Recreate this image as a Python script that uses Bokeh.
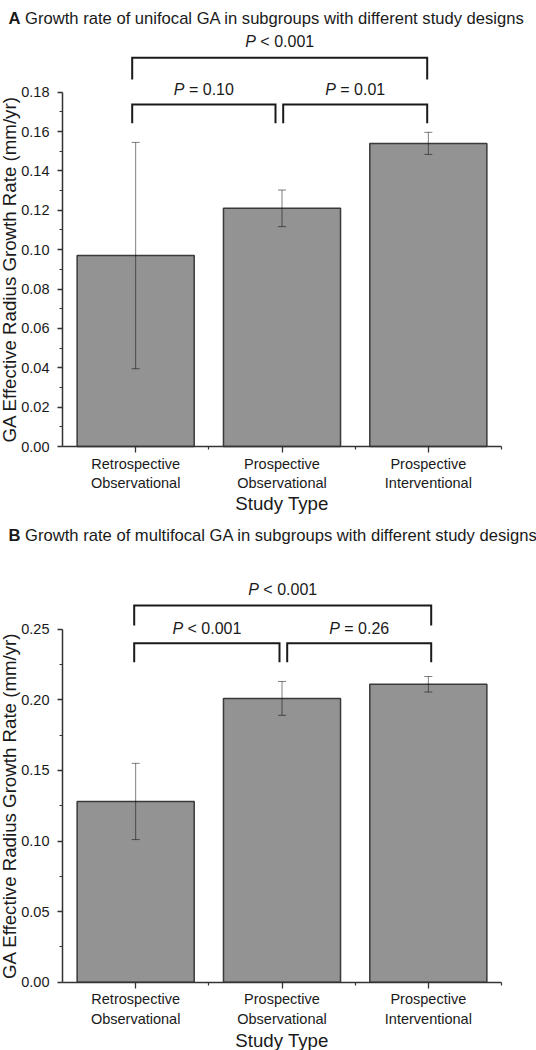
import math
from bokeh.plotting import figure
from bokeh.models import ColumnDataSource, FixedTicker, Whisker, TeeHead, PrintfTickFormatter
from bokeh.core.properties import value
from bokeh.layouts import column
from bokeh.embed import file_html
from bokeh.resources import INLINE

# ---------------- data ----------------
categories = ["Retrospective\nObservational", "Prospective\nObservational", "Prospective\nInterventional"]
unifocal_rate = [0.097, 0.121, 0.154]
unifocal_err = [0.0575, 0.0093, 0.0056]
multifocal_rate = [0.128, 0.201, 0.211]
multifocal_err = [0.027, 0.012, 0.0055]
# p-values: [outer (1 vs 3), left (1 vs 2), right (2 vs 3)]
unifocal_p = ["< 0.001", "= 0.10", "= 0.01"]
multifocal_p = ["< 0.001", "< 0.001", "= 0.26"]
unifocal_ticks = [0.00, 0.02, 0.04, 0.06, 0.08, 0.10, 0.12, 0.14, 0.16, 0.18]
unifocal_minor = [0.01, 0.03, 0.05, 0.07, 0.09, 0.11, 0.13, 0.15, 0.17]
multifocal_ticks = [0.00, 0.05, 0.10, 0.15, 0.20, 0.25]
multifocal_minor = [0.025, 0.075, 0.125, 0.175, 0.225]
title_a = ("A", "Growth rate of unifocal GA in subgroups with different study designs")
title_b = ("B", "Growth rate of multifocal GA in subgroups with different study designs")
y_label = "GA Effective Radius Growth Rate (mm/yr)"
x_label = "Study Type"

FONT = "Liberation Sans"
TXT = "#1a1a1a"
AX = "#333333"
W = 536

# Arial / Liberation Sans advance widths (per 1000 em)
CW = {" ": 278, "=": 584, "<": 584, ".": 278, "P": 667, "A": 722, "B": 722}
for d in "0123456789":
    CW[d] = 556


def tw(s, size):
    return sum(CW.get(c, 556) for c in s) * size / 1000.0


def make_panel(title, rates, errs, pvals, ticks, minor, ymax, H, zero_px, top_px, lay):
    # layout in canvas pixels -> data units
    axis_px, right_px = 62.0, 501.0
    ppx = (right_px - axis_px) / 3.0
    ppu = (zero_px - top_px) / ymax

    def X(px):
        return 0.5 + (px - axis_px) / ppx

    def Y(py):
        return (zero_px - py) / ppu

    p = figure(width=W, height=H, x_range=(X(0), X(W)), y_range=(Y(H), Y(0)),
               output_backend="svg", toolbar_location=None,
               min_border=0, min_border_left=0, min_border_right=0,
               min_border_top=0, min_border_bottom=0)
    p.outline_line_color = None
    p.xgrid.visible = False
    p.ygrid.visible = False
    p.background_fill_color = "white"
    p.border_fill_color = "white"

    xs = list(range(1, len(categories) + 1))
    src = ColumnDataSource(dict(x=xs, top=rates,
                                upper=[r + e for r, e in zip(rates, errs)],
                                lower=[r - e for r, e in zip(rates, errs)]))
    p.vbar(x="x", top="top", width=0.8, source=src, fill_color="#939393",
           line_color="#3a3a3a", line_width=1.5)
    wk = Whisker(source=src, base="x", upper="upper", lower="lower",
                 line_color="black", line_alpha=0.5, line_width=1, level="overlay",
                 upper_head=TeeHead(size=8, line_color="black", line_alpha=0.5, line_width=1),
                 lower_head=TeeHead(size=8, line_color="black", line_alpha=0.5, line_width=1))
    p.add_layout(wk)

    # axes, fixed inside the frame at the data origin
    xa = p.xaxis[0]
    xa.fixed_location = 0
    xa.bounds = (0.5, 3.5)
    xa.ticker = FixedTicker(ticks=xs, minor_ticks=[1.5, 2.5, 3.5])
    xa.major_label_overrides = {i: c for i, c in zip(xs, categories)}
    ya = p.yaxis[0]
    ya.fixed_location = 0.5
    ya.bounds = (0, ymax)
    ya.ticker = FixedTicker(ticks=ticks, minor_ticks=minor)
    ya.formatter = PrintfTickFormatter(format="%.2f")
    for a in (xa, ya):
        a.axis_line_color = AX
        a.axis_line_width = 1.5
        a.major_tick_line_color = AX
        a.major_tick_line_width = 1.3
        a.minor_tick_line_color = AX
        a.minor_tick_line_width = 1.2
        a.major_tick_in = 0
        a.minor_tick_in = 0
        a.major_label_text_font = FONT
        a.major_label_text_font_size = "14.5px"
        a.major_label_text_color = TXT
    xa.major_tick_out = 6
    xa.minor_tick_out = 3
    xa.major_label_standoff = 3
    xa.major_label_text_line_height = 1.24
    ya.major_tick_out = 5
    ya.minor_tick_out = 3
    ya.major_label_standoff = 8

    # significance brackets
    x0, x1, x2, x3 = [X(v) for v in lay["bx"]]
    oh, ol = Y(lay["outer_h"]), Y(lay["outer_leg"])
    ih, il = Y(lay["inner_h"]), Y(lay["inner_leg"])
    p.multi_line(xs=[[x0, x0, x3, x3], [x0, x0, x1, x1], [x2, x2, x3, x3]],
                 ys=[[ol, oh, oh, ol], [il, ih, ih, il], [il, ih, ih, il]],
                 line_color="#1a1a1a", line_width=2, line_join="miter")

    psize = 16
    spots = [((x0 + x3) / 2, Y(lay["outer_text"])),
             ((x0 + x1) / 2, Y(lay["inner_text"])),
             ((x2 + x3) / 2, Y(lay["inner_text"]))]
    for (cx, cy), pv in zip(spots, pvals):
        total = tw("P " + pv, psize)
        p.text(x=[cx], y=[cy], text=["P"], x_offset=-total / 2, text_align="left",
               text_baseline="middle", text_font=value(FONT), text_font_style="italic",
               text_font_size=f"{psize}px", text_color=TXT)
        p.text(x=[cx], y=[cy], text=[pv], x_offset=-total / 2 + tw("P ", psize),
               text_align="left", text_baseline="middle", text_font=value(FONT),
               text_font_size=f"{psize}px", text_color=TXT)

    # panel title (bold letter + text)
    tsize = 16.6
    p.text(x=[X(8)], y=[Y(lay["title"])], text=[title[0]], text_align="left",
           text_baseline="middle", text_font=value(FONT), text_font_style="bold",
           text_font_size=f"{tsize}px", text_color=TXT)
    p.text(x=[X(8)], y=[Y(lay["title"])], text=[title[1]],
           x_offset=tw(title[0] + " ", tsize), text_align="left",
           text_baseline="middle", text_font=value(FONT),
           text_font_size=f"{tsize}px", text_color=TXT)

    # axis titles
    p.text(x=[X(9)], y=[ymax / 2], text=[y_label], angle=math.pi / 2,
           text_align="center", text_baseline="middle", text_font=value(FONT),
           text_font_size="18.7px", text_color=TXT)
    p.text(x=[2.0], y=[Y(lay["study"])], text=[x_label], text_align="center",
           text_baseline="middle", text_font=value(FONT),
           text_font_size="18.7px", text_color=TXT)
    return p


lay_a = dict(title=18, outer_text=41, outer_h=57.3, outer_leg=79, inner_text=88.5,
             inner_h=104, inner_leg=122.7, study=503,
             bx=(131.7, 275.0, 282.7, 426.7))
lay_b = dict(title=15, outer_text=69, outer_h=85, outer_leg=105, inner_text=107.5,
             inner_h=122.7, inner_leg=141.7, study=520,
             bx=(133.7, 279.0, 286.7, 430.7))

pa = make_panel(title_a, unifocal_rate, unifocal_err, unifocal_p, unifocal_ticks,
                unifocal_minor, 0.18, 520, 446.0, 91.7, lay_a)
pb = make_panel(title_b, multifocal_rate, multifocal_err, multifocal_p, multifocal_ticks,
                multifocal_minor, 0.25, 530, 461.7, 108.7, lay_b)

layout = column(pa, pb, spacing=0)
open("out.html", "w").write(file_html(layout, INLINE))
